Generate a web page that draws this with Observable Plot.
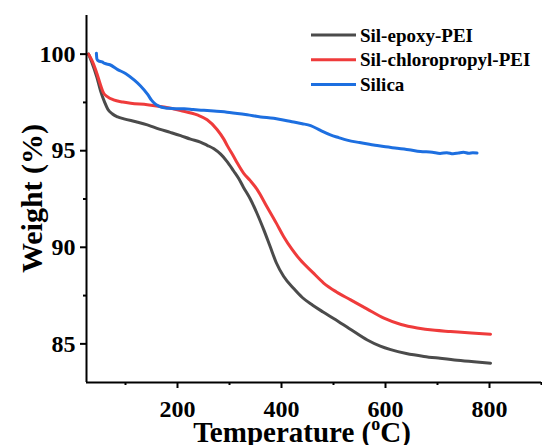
<!DOCTYPE html>
<html>
<head>
<meta charset="utf-8">
<script src="https://cdn.jsdelivr.net/npm/d3@7"></script>
<script src="https://cdn.jsdelivr.net/npm/@observablehq/plot@0.6"></script>
<style>
  html, body { margin: 0; padding: 0; background: #fff; }
  #chart { width: 542px; height: 445px; }
</style>
</head>
<body>
<div id="chart"></div>
<script>
// Series names and colours
const seriesNames = ["Sil-epoxy-PEI", "Sil-chloropropyl-PEI", "Silica"];
const seriesColors = ["#4b4b4b", "#ef3b3b", "#1d6fe0"];

// Sil-epoxy-PEI
const tempEpoxy = [29, 35, 45, 52, 60, 66, 75, 85, 97, 120, 142, 165, 186, 206, 225, 244, 257, 270, 283, 295, 308, 318, 327, 340, 353, 366, 378, 390, 404, 424, 440, 460, 480, 501, 530, 565, 590, 610, 640, 674, 705, 738, 770, 802];
const wEpoxy = [100, 99.6, 98.8, 98.1, 97.5, 97.15, 96.9, 96.75, 96.65, 96.5, 96.34, 96.12, 95.95, 95.78, 95.6, 95.45, 95.28, 95.1, 94.82, 94.45, 93.95, 93.55, 93.1, 92.5, 91.75, 90.9, 90.05, 89.2, 88.5, 87.85, 87.4, 87.0, 86.65, 86.3, 85.8, 85.2, 84.88, 84.7, 84.5, 84.35, 84.25, 84.15, 84.07, 84.0];

// Sil-chloropropyl-PEI
const tempChloro = [29, 35, 45, 52, 58, 65, 77, 95, 110, 142, 174, 206, 238, 257, 276, 289, 296, 308, 315, 327, 340, 353, 372, 390, 404, 420, 436, 460, 481, 505, 533, 565, 597, 630, 661, 695, 725, 765, 802];
const wChloro = [100, 99.7, 99.0, 98.4, 97.98, 97.8, 97.63, 97.52, 97.46, 97.38, 97.26, 97.08, 96.85, 96.6, 96.1, 95.6, 95.25, 94.7, 94.36, 93.84, 93.45, 93.0, 92.1, 91.25, 90.56, 89.9, 89.35, 88.7, 88.15, 87.7, 87.28, 86.8, 86.33, 86.0, 85.82, 85.7, 85.64, 85.56, 85.5];

// Silica
const tempSilica = [44, 45, 48, 55, 60, 70, 85, 100, 117, 129, 143, 150, 157, 165, 175, 181, 195, 213, 230, 245, 270, 300, 334, 360, 385, 398, 420, 440, 456, 475, 494, 510, 526, 550, 577, 600, 622, 645, 667, 690, 705, 718, 730, 740, 750, 760, 768, 776];
const wSilica = [100.05, 99.75, 99.65, 99.6, 99.52, 99.45, 99.2, 99.0, 98.65, 98.35, 97.9, 97.62, 97.42, 97.3, 97.22, 97.2, 97.17, 97.17, 97.13, 97.1, 97.05, 96.98, 96.86, 96.75, 96.68, 96.62, 96.5, 96.4, 96.3, 96.05, 95.82, 95.68, 95.55, 95.42, 95.3, 95.2, 95.13, 95.05, 94.96, 94.92, 94.86, 94.9, 94.84, 94.88, 94.92, 94.87, 94.9, 94.88];

// Axis ticks
const xTicks = [200, 400, 600, 800];
const xMinorTicks = [100, 300, 500, 700, 900];
const yTicks = [85, 90, 95, 100];
const yMinorTicks = [87.5, 92.5, 97.5];
const xDomain = [25, 900];
const yDomain = [83, 102];

const temps = [tempEpoxy, tempChloro, tempSilica];
const weights = [wEpoxy, wChloro, wSilica];
const data = [];
seriesNames.forEach((name, s) => {
  temps[s].forEach((t, i) => data.push({series: name, t, w: weights[s][i]}));
});

const font = "'Liberation Serif', 'Times New Roman', serif";

const svg = Plot.plot({
  width: 542,
  height: 445,
  marginLeft: 86,
  marginRight: 1,
  marginTop: 15,
  marginBottom: 63,
  style: {fontFamily: font, fontWeight: "bold", background: "white", color: "black"},
  x: {domain: xDomain},
  y: {domain: yDomain},
  color: {domain: seriesNames, range: seriesColors},
  marks: [
    Plot.axisX(xMinorTicks, {tickSize: 3, text: null, strokeWidth: 2, label: null}),
    Plot.axisX(xTicks, {tickSize: 6, tickPadding: 11, fontSize: 24, strokeWidth: 2, label: null, tickFormat: d => String(d)}),
    Plot.axisY(yMinorTicks, {tickSize: 3, text: null, strokeWidth: 2, label: null}),
    Plot.axisY(yTicks, {tickSize: 6, tickPadding: 5, fontSize: 24, strokeWidth: 2, label: null, tickFormat: d => String(d)}),
    Plot.line(data, {x: "t", y: "w", z: "series", stroke: "series", strokeWidth: 3, curve: "monotone-x"}),
    Plot.ruleX([xDomain[0]], {strokeWidth: 2}),
    Plot.ruleY([yDomain[0]], {strokeWidth: 2})
  ]
});

const s = d3.select(svg);
// Y axis title
s.append("text")
  .attr("transform", "translate(42,198.5) rotate(-90)")
  .attr("text-anchor", "middle")
  .attr("font-family", font)
  .attr("font-weight", "bold")
  .attr("font-size", 30)
  .attr("fill", "black")
  .text("Weight (%)");

// X axis title with superscript
const xt = s.append("text")
  .attr("x", 302)
  .attr("y", 442)
  .attr("text-anchor", "middle")
  .attr("font-family", font)
  .attr("font-weight", "bold")
  .attr("font-size", 29)
  .attr("fill", "black");
xt.append("tspan").text("Temperature (");
xt.append("tspan").attr("font-size", 18).attr("dy", -12).text("o");
xt.append("tspan").attr("dy", 12).text("C)");

// Legend
const lg = s.append("g").attr("text-anchor", "start");
seriesNames.forEach((name, i) => {
  const y = 35 + i * 24.8;
  lg.append("line").attr("x1", 311).attr("x2", 356).attr("y1", y).attr("y2", y)
    .attr("stroke", seriesColors[i]).attr("stroke-width", 3);
  lg.append("text").attr("x", 360).attr("y", y).attr("dy", "0.35em")
    .attr("text-anchor", "start")
    .attr("font-family", font).attr("font-weight", "bold").attr("font-size", 19)
    .attr("fill", "black").text(name);
});

document.getElementById("chart").appendChild(svg);
</script>
</body>
</html>
